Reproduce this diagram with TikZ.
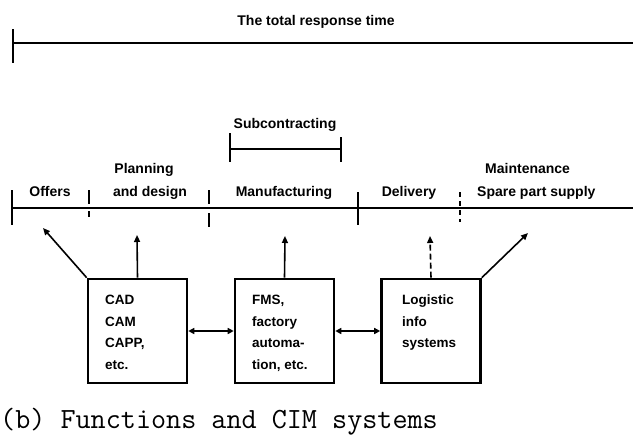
\documentclass[tikz,border=0pt]{standalone}
\usepackage{fontspec}
\setmainfont{Liberation Sans}
\usetikzlibrary{arrows.meta}

\begin{document}
\begin{tikzpicture}[x=1pt,y=-1pt,
  lbl/.style={font=\fontsize{14}{16}\selectfont\bfseries, inner sep=0pt, anchor=base},
  tickmark/.style={line width=1.6pt},
  axis/.style={line width=2.6pt},
  sysbox/.style={draw, line width=2.6pt, minimum width=99pt, minimum height=104pt, inner sep=0pt},
  boxtext/.style={font=\fontsize{13.5}{21.5}\selectfont\bfseries, align=left, anchor=north west, inner sep=0pt},
  link/.style={line width=1.6pt, -{Triangle[length=7pt,width=6pt]}},
  dlink/.style={line width=2.6pt, {Triangle[length=6pt,width=6pt]}-{Triangle[length=6pt,width=6pt]}},
]
\useasboundingbox (0,0) rectangle (633,440);

% total response time
\node[lbl] (title) at (316,25) {The total response time};
\coordinate (tl) at (13,43);
\coordinate (tr) at (633,43);
\draw[axis] (tl) -- (tr);
\coordinate (tlt) at (13,29);
\coordinate (tlb) at (13,63);
\draw[tickmark] (tlt) -- (tlb);

% subcontracting span
\node[lbl] (sub) at (285,128) {Subcontracting};
\coordinate (sl) at (230,149);
\coordinate (sr) at (341,149);
\draw[axis] (sl) -- (sr);
\draw[tickmark] (230,133) -- (230,162);
\draw[tickmark] (341,137) -- (341,162);

% main timeline with phases
\coordinate (ml) at (11,208);
\coordinate (mr) at (633,208);
\draw[axis] (ml) -- (mr);
\draw[tickmark] (12,190) -- (12,225);
\draw[tickmark] (89,190) -- (89,204);
\draw[tickmark] (89,211) -- (89,217);
\draw[tickmark] (209,190) -- (209,204);
\draw[tickmark] (209,213) -- (209,227);
\draw[tickmark] (358,192) -- (358,225);
\draw[tickmark, dash pattern=on 5pt off 4pt] (460,192) -- (460,222);

\node[lbl] (offers) at (50,196) {Offers};
\node[lbl] (plan1) at (144,173) {Planning};
\node[lbl] (plan2) at (150,196) {and design};
\node[lbl] (manu) at (284,196) {Manufacturing};
\node[lbl] (deliv) at (409,196) {Delivery};
\node[lbl, anchor=base west] (maint1) at (485,173) {Maintenance};
\node[lbl, anchor=base west] (maint2) at (477,196) {Spare part supply};

% CIM systems
\node[sysbox] (b1) at (137.5,331) {};
\node[sysbox] (b2) at (284.5,331) {};
\node[sysbox] (b3) at (431,331) {};

\node[boxtext] (t1) at (105,295) {CAD\\CAM\\CAPP,\\etc.};
\node[boxtext] (t2) at (252,295) {FMS,\\factory\\automa-\\tion, etc.};
\node[boxtext] (t3) at (402,295) {Logistic\\info\\systems};

% links from systems to phases
\coordinate (aoff) at (43,228);
\coordinate (apln) at (137,235);
\coordinate (aman) at (285,236);
\coordinate (adel) at (430,236);
\coordinate (amnt) at (528,233);
\draw[link] (b1.north west) -- (aoff);
\draw[link] (b1.north) -- (apln);
\draw[link] (b2.north) -- (aman);
\draw[link, dash pattern=on 6pt off 3pt] (b3.north) -- (adel);
\draw[link] (b3.north east) -- (amnt);

\draw[dlink] (b1.east) -- (b2.west);
\draw[dlink] (b2.east) -- (b3.west);

\node[font=\fontsize{29.3}{31}\selectfont\ttfamily, anchor=base west, inner sep=0pt] (cap) at (0,428) {(b) Functions and CIM systems};
\end{tikzpicture}
\end{document}
